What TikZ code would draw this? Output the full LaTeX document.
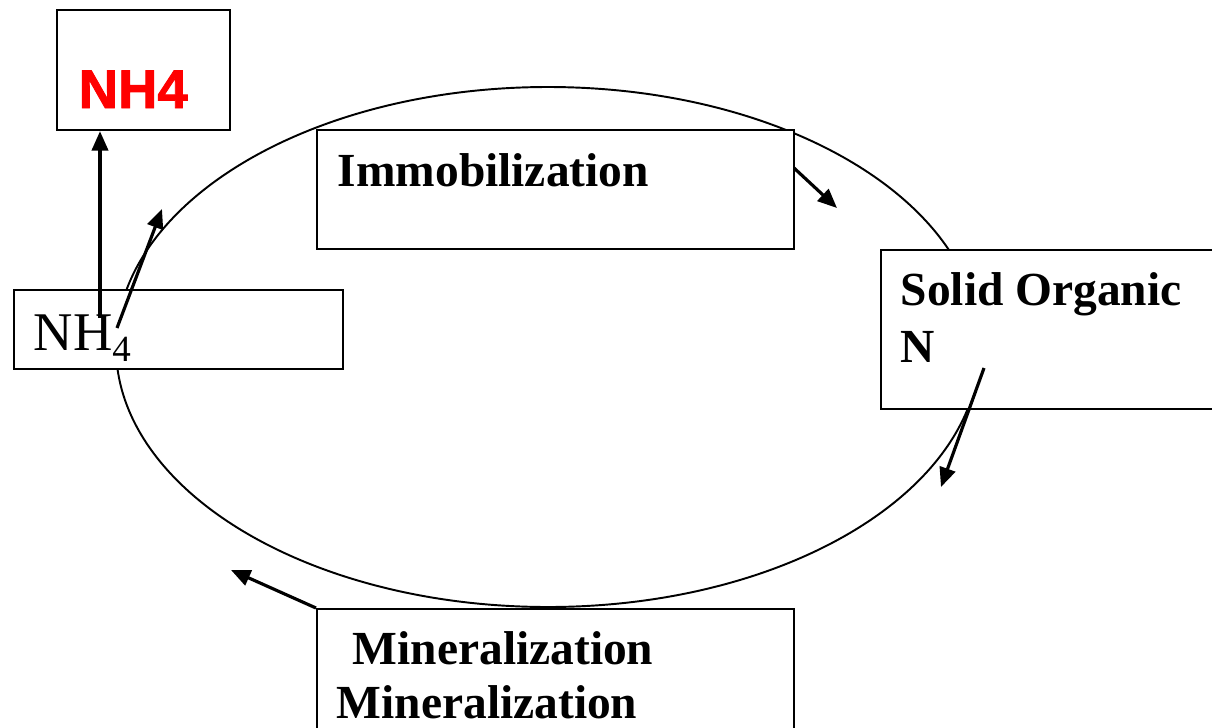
\documentclass[tikz,border=0pt]{standalone}
\usepackage{fontspec}
\setmainfont{Liberation Serif}
\newfontfamily\redfont{Liberation Sans}[BoldFeatures={FakeBold=1.6}]
\usetikzlibrary{arrows.meta}

\begin{document}
\begin{tikzpicture}[x=0.01cm, y=-0.01cm,
		box/.style={draw, line width=0.6pt, fill=white, anchor=north west, inner sep=0pt},
		lbl/.style={anchor=base west, inner sep=0pt, font=\fontsize{13.5}{16}\selectfont\bfseries},
		flow/.style={line width=0.9pt, -{Triangle[length=5.5pt,width=4.6pt]}}]
		\clip (0,0) rectangle (1212,727);

		\draw [line width=0.55pt] (548,347) ellipse [x radius=432, y radius=260];

		\node [box, minimum width=1.73cm, minimum height=1.20cm] (nhred) at (56,9) {};
		\node [box, minimum width=4.77cm, minimum height=1.19cm] (immo) at (316,129) {};
		\node [box, minimum width=3.40cm, minimum height=1.59cm] (solid) at (880,249) {};
		\node [box, minimum width=3.29cm, minimum height=0.79cm] (ammon) at (13,289) {};
		\node [box, minimum width=4.77cm, minimum height=1.30cm] (mineral) at (316,608) {};

		\node [anchor=base west, inner sep=0pt, text=red, font=\redfont\bfseries\fontsize{15.5}{18}\selectfont] (nhredtxt) at (78,108) {NH4};
		\node [lbl] (immotxt) at (337,186) {Immobilization};
		\node [lbl] (solidtxt) at (900,305) {Solid Organic};
		\node [lbl] (solidN) at (900,362) {N};
		\node [anchor=base west, inner sep=0pt, font=\fontsize{15.5}{18}\selectfont] (ammontxt) at (33,350) {NH\raisebox{-3.4pt}{\fontsize{10.5}{12}\selectfont 4}};
		\node [lbl] (minone) at (352,664) {Mineralization};
		\node [lbl] (mintwo) at (336,718) {Mineralization};

		\coordinate (upfoot) at (100,318);
		\coordinate (leftfoot) at (117,328);
		\coordinate (lefttip) at (162,209);
		\coordinate (immofoot) at (794,168);
		\coordinate (immotip) at (837,208);
		\coordinate (solidfoot) at (984,368);
		\coordinate (solidtip) at (941,487);
		\coordinate (mintip) at (231,570);

		\draw [flow] (upfoot) -- (upfoot |- nhred.south);
		\draw [flow] (leftfoot) -- (lefttip);
		\draw [flow] (immofoot) -- (immotip);
		\draw [flow] (solidfoot) -- (solidtip);
		\draw [flow] (mineral.north west) -- (mintip);
	\end{tikzpicture}
\end{document}
